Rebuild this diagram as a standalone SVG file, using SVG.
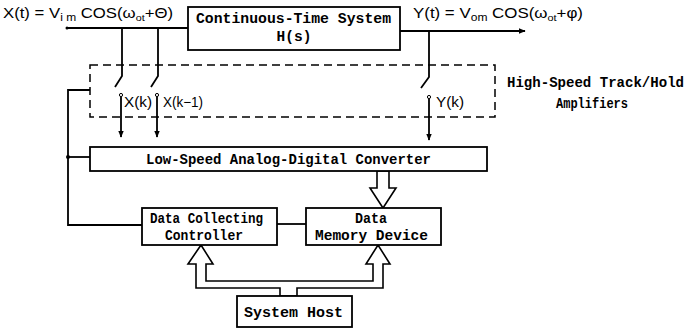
<svg xmlns="http://www.w3.org/2000/svg" width="691" height="328" viewBox="0 0 691 328">
<defs>
<marker id="ah" viewBox="0 0 10 10" refX="9" refY="5" markerWidth="7" markerHeight="7" markerUnits="userSpaceOnUse" orient="auto">
<path d="M0,1 L10,5 L0,9 z" fill="#000"/>
</marker>
<style>
.t{font-family:"Liberation Mono","DejaVu Sans Mono",monospace;font-size:14.5px;font-weight:bold;fill:#000}
.f{font-family:"Liberation Sans","DejaVu Sans",sans-serif;font-size:14px;fill:#000}
.box{fill:#fff;stroke:#000;stroke-width:1.8}
.ln{fill:none;stroke:#000;stroke-width:1.8}
.ds{fill:none;stroke:#000;stroke-width:1.5;stroke-dasharray:8 5}
.ha{fill:#fff;stroke:#000;stroke-width:1.6;stroke-linejoin:miter}
</style>
</defs>
<rect width="691" height="328" fill="#fff"/>

<!-- formulas -->
<text class="f" x="3" y="18" textLength="170" lengthAdjust="spacingAndGlyphs">X(t) = V<tspan font-size="10" dy="3">i m</tspan><tspan dy="-3"> COS(ω</tspan><tspan font-size="9" dy="3">ot</tspan><tspan dy="-3">+Θ)</tspan></text>
<text class="f" x="413" y="18" textLength="170" lengthAdjust="spacingAndGlyphs">Y(t) = V<tspan font-size="10" dy="3">om</tspan><tspan dy="-3"> COS(ω</tspan><tspan font-size="9" dy="3">ot</tspan><tspan dy="-3">+φ)</tspan></text>

<!-- connectors -->
<g id="connectors">
<line class="ln" x1="67" y1="28" x2="188" y2="28"/>
<circle cx="67" cy="28" r="1.5"/>
<line class="ln" x1="400" y1="31" x2="525" y2="31" marker-end="url(#ah)"/>
<!-- taps / switches -->
<polyline class="ln" points="122,28 122,76 115,87"/>
<polyline class="ln" points="158,28 158,76 151,87"/>
<polyline class="ln" points="429,31 429,77 421,88"/>
<circle cx="121" cy="95" r="1.6" fill="#fff" stroke="#000" stroke-width="1"/>
<circle cx="157" cy="95" r="1.6" fill="#fff" stroke="#000" stroke-width="1"/>
<circle cx="429" cy="97" r="1.6" fill="#fff" stroke="#000" stroke-width="1"/>
<line class="ln" x1="121" y1="97" x2="121" y2="137" marker-end="url(#ah)"/>
<line class="ln" x1="157" y1="97" x2="157" y2="137" marker-end="url(#ah)"/>
<line class="ln" x1="429" y1="99" x2="429" y2="140" marker-end="url(#ah)"/>
<!-- control feedback line -->
<polyline class="ln" points="90,90 68,90 68,225 142,225"/>
<line class="ln" x1="68" y1="157" x2="90" y2="157"/>
<circle cx="68" cy="157" r="2"/>
<!-- controller to memory -->
<line class="ln" x1="277" y1="224" x2="306" y2="224"/>
<!-- ADC to memory hollow arrow -->
<polygon class="ha" points="377,171 377,188 370,188 383,208 396,188 389,188 389,171"/>
<!-- host hollow arrows -->
<polygon class="ha" points="280,296 280,288 196,288 196,264 188,264 201,245 213,264 206,264 206,281 373,281 373,264 366,264 378,245 390,264 383,264 383,288 297,288 297,296"/>
</g>

<!-- dashed track/hold enclosure -->
<g id="track-hold">
<rect class="ds" x="90" y="65" width="405" height="52"/>
<text class="t" x="507" y="87" textLength="177" lengthAdjust="spacingAndGlyphs">High-Speed Track/Hold</text>
<text class="t" x="556" y="108" textLength="72" lengthAdjust="spacingAndGlyphs">Amplifiers</text>
<text class="f" x="124" y="107" textLength="28" lengthAdjust="spacingAndGlyphs">X(k)</text>
<text class="f" x="163" y="107" textLength="40" lengthAdjust="spacingAndGlyphs">X(k−1)</text>
<text class="f" x="436" y="107" textLength="28" lengthAdjust="spacingAndGlyphs">Y(k)</text>
</g>

<g id="cts">
<rect class="box" x="188" y="7" width="212" height="43"/>
<text class="t" x="196" y="23" textLength="195" lengthAdjust="spacingAndGlyphs">Continuous-Time System</text>
<text class="t" x="294" y="41" text-anchor="middle">H(s)</text>
</g>

<g id="adc">
<rect class="box" x="90" y="147" width="397" height="24"/>
<text class="t" x="146" y="164" textLength="285" lengthAdjust="spacingAndGlyphs">Low-Speed Analog-Digital Converter</text>
</g>

<g id="dcc">
<rect class="box" x="142" y="208" width="135" height="37"/>
<text class="t" x="150" y="223" textLength="113" lengthAdjust="spacingAndGlyphs">Data Collecting</text>
<text class="t" x="165" y="240" textLength="78" lengthAdjust="spacingAndGlyphs">Controller</text>
</g>

<g id="dmd">
<rect class="box" x="306" y="208" width="135" height="37"/>
<text class="t" x="355" y="223" textLength="32" lengthAdjust="spacingAndGlyphs">Data</text>
<text class="t" x="315" y="240" textLength="113" lengthAdjust="spacingAndGlyphs">Memory Device</text>
</g>

<g id="host">
<rect class="box" x="237" y="296" width="115" height="31"/>
<text class="t" x="244" y="317" textLength="99" lengthAdjust="spacingAndGlyphs">System Host</text>
</g>
</svg>
